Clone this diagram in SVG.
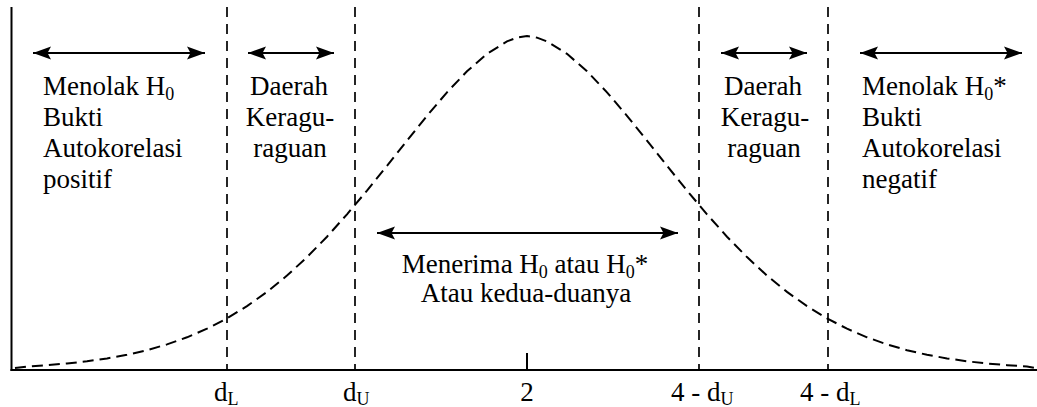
<svg xmlns="http://www.w3.org/2000/svg" width="1037" height="407" viewBox="0 0 1037 407">
<style>
text{font-family:"Liberation Serif","Times New Roman",Times,serif;font-size:27px;fill:#000}
.sub{font-size:18px}
.mid{text-anchor:middle}
.axis{stroke:#000;stroke-width:2;fill:none}
.vdash{stroke:#000;stroke-width:1.7;stroke-dasharray:10 7;fill:none}
.curve{stroke:#000;stroke-width:2;stroke-dasharray:11 6;fill:none}
.arrow{stroke:#000;stroke-width:2.2;fill:none;marker-start:url(#ah);marker-end:url(#ah)}
</style>
<defs>
<marker id="ah" viewBox="0 0 18 14" refX="18" refY="7" markerWidth="18" markerHeight="14" markerUnits="userSpaceOnUse" orient="auto-start-reverse">
<path d="M0,0.5 L18,7 L0,13.5 L3.5,7 Z" fill="#000"/>
</marker>
</defs>
<g id="axes">
<line class="axis" x1="11.5" y1="7" x2="11.5" y2="371"/>
<line class="axis" x1="10.5" y1="370" x2="1037" y2="370"/>
<line class="axis" x1="527" y1="353" x2="527" y2="370"/>
</g>
<g id="curve">
<path class="curve" d="M15,368 L27,366.5 L47,365.2 L67,363.5 L87,361.3 L107,358.4 L127,354.8 L147,350.2 L167,344.4 L187,337.3 L207,328.7 L227,318.4 L247,306.1 L267,291.9 L287,275.6 L307,257.1 L327,236.7 L347,214.3 L367,190.6 L387,165.8 L407,140.6 L427,115.8 L447,92.3 L467,71.3 L487,53.8 L507,41.4 L517,37.6 L527,36 L537,37.6 L547,41.4 L567,53.8 L587,71.3 L607,92.3 L627,115.8 L647,140.6 L667,165.8 L687,190.6 L707,214.3 L727,236.7 L747,257.1 L767,275.6 L787,291.9 L807,306.1 L827,318.4 L847,328.7 L867,337.3 L887,344.4 L907,350.2 L927,354.8 L947,358.4 L967,361.3 L987,363.5 L1007,365.2 L1027,366.5 L1035,368"/>
</g>
<g id="boundaries">
<line class="vdash" x1="227" y1="7" x2="227" y2="370"/>
<line class="vdash" x1="355" y1="7" x2="355" y2="370"/>
<line class="vdash" x1="699" y1="7" x2="699" y2="370"/>
<line class="vdash" x1="828" y1="7" x2="828" y2="370"/>
</g>
<g id="connectors">
<line class="arrow" x1="33" y1="53" x2="205" y2="53"/>
<line class="arrow" x1="248" y1="53" x2="334" y2="53"/>
<line class="arrow" x1="721" y1="53" x2="807" y2="53"/>
<line class="arrow" x1="860" y1="53" x2="1022" y2="53"/>
<line class="arrow" x1="377" y1="233" x2="678" y2="233"/>
</g>
<g id="node-reject-pos">
<text x="43" y="95">Menolak H<tspan class="sub" dy="5">0</tspan></text>
<text x="43" y="126">Bukti</text>
<text x="43" y="157">Autokorelasi</text>
<text x="43" y="188">positif</text>
</g>
<g id="node-doubt-left">
<text class="mid" x="289" y="95">Daerah</text>
<text class="mid" x="290" y="126">Keragu-</text>
<text class="mid" x="290" y="157">raguan</text>
</g>
<g id="node-accept">
<text class="mid" x="525" y="273">Menerima H<tspan class="sub" dy="5">0</tspan><tspan dy="-5"> atau H</tspan><tspan class="sub" dy="5">0</tspan><tspan dy="-5">*</tspan></text>
<text class="mid" x="526" y="302">Atau kedua-duanya</text>
</g>
<g id="node-doubt-right">
<text class="mid" x="763" y="95">Daerah</text>
<text class="mid" x="765" y="126">Keragu-</text>
<text class="mid" x="764" y="157">raguan</text>
</g>
<g id="node-reject-neg">
<text x="862" y="95">Menolak H<tspan class="sub" dy="5">0</tspan><tspan dy="-5">*</tspan></text>
<text x="862" y="126">Bukti</text>
<text x="862" y="157">Autokorelasi</text>
<text x="862" y="188">negatif</text>
</g>
<g id="ticks">
<text x="214" y="401">d<tspan class="sub" dy="4">L</tspan></text>
<text x="343" y="401">d<tspan class="sub" dy="4">U</tspan></text>
<text class="mid" x="527" y="401">2</text>
<text x="671" y="401">4 - d<tspan class="sub" dy="4">U</tspan></text>
<text x="800" y="401">4 - d<tspan class="sub" dy="4">L</tspan></text>
</g>
</svg>
